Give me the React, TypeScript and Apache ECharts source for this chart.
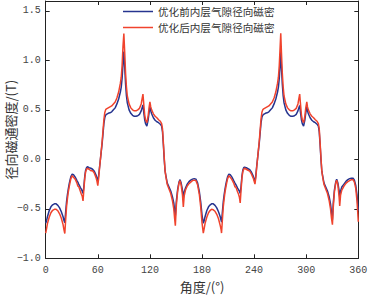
import React, { useEffect, useRef } from "react";
import * as echarts from "echarts";

// angle (deg)
const angles = [
  0, 1, 2, 4, 6, 8, 10, 12, 14, 16, 18, 20, 21, 22, 23, 24, 25, 26, 27, 28, 29, 30.5, 32, 34, 36, 37, 38, 40, 41, 42, 43, 44, 45, 46, 47, 48, 50, 52, 54, 56, 58, 59, 60, 61, 62, 63, 64, 65, 66, 67, 68, 69, 70, 72, 74, 76, 78, 80, 82, 84, 86, 87, 88, 89, 90, 91, 92, 93, 94, 96, 98, 100, 102, 104, 106, 108, 110, 111, 112, 113, 114, 115, 116.5, 118, 119, 120, 121, 122, 124, 126, 128, 130, 132, 133.5, 134.5, 135.5, 136.5, 137.5, 138.5, 140, 142, 144, 146, 147.5, 148.5, 149.3, 150.5, 152, 153.5, 154.7, 156, 157.5, 158.5, 159.5, 161, 163, 165, 167, 169, 171, 173, 175, 177, 178.5, 180,
  181.5, 182.5, 183.5, 185.5, 187.5, 189.5, 191, 193, 195, 197, 199, 201, 202, 202.5, 203.5, 204.5, 205.5, 206.5, 207.5, 208.5, 209.5, 211, 212.5, 214.5, 216.5, 218, 219, 221, 222, 223, 224, 225, 226, 227, 228, 229, 231, 233, 235, 237, 239, 240, 241, 242, 243, 244, 245, 246, 247, 248, 249, 250, 251, 253, 255, 257, 259, 261, 263, 265, 267, 268, 269, 270, 270.7, 271.5, 272.5, 273.5, 274.5, 276.5, 278.5, 280.5, 282.5, 284.5, 286.5, 288.5, 290.5, 291.5, 292.5, 293.5, 294.5, 295.5, 297, 298.5, 299.5, 300.7, 301.5, 302.5, 304.5, 306.5, 308.5, 310.5, 312.5, 314, 315, 316, 317, 318, 319, 320.5, 322.5, 324.5, 326.5, 328, 329.2, 330.2, 331.2, 332.5, 334, 335.1, 336.5, 337.8, 338.6, 339.6, 341, 343.5, 346, 348, 350, 352, 354, 355.5, 357, 358.5, 360,
];

// 优化前 (before optimisation), T
const before = [
  -0.645, -0.62, -0.58, -0.52, -0.48, -0.46, -0.45, -0.45, -0.465, -0.49, -0.53, -0.58, -0.615, -0.64, -0.53, -0.43, -0.36, -0.3, -0.25, -0.21, -0.175, -0.15, -0.155, -0.18, -0.215, -0.23, -0.25, -0.285, -0.3, -0.32, -0.345, -0.27, -0.17, -0.11, -0.085, -0.075, -0.085, -0.09, -0.1, -0.12, -0.16, -0.19, -0.22, -0.16, -0.08, 0.0, 0.08, 0.16, 0.26, 0.36, 0.42, 0.445, 0.455, 0.465, 0.47, 0.48, 0.5, 0.52, 0.56, 0.61, 0.68, 0.73, 0.82, 0.96, 1.09, 0.93, 0.76, 0.64, 0.57, 0.5, 0.465, 0.445, 0.435, 0.435, 0.44, 0.455, 0.49, 0.52, 0.55, 0.47, 0.4, 0.36, 0.335, 0.4, 0.47, 0.53, 0.49, 0.46, 0.42, 0.395, 0.38, 0.37, 0.355, 0.335, 0.28, 0.15, 0.0, -0.12, -0.17, -0.24, -0.28, -0.32, -0.38, -0.44, -0.52, -0.57, -0.42, -0.3, -0.23, -0.205, -0.24, -0.31, -0.39, -0.33, -0.29, -0.25, -0.225, -0.21, -0.2, -0.195, -0.2, -0.24, -0.33, -0.43, -0.56,
  -0.645, -0.62, -0.58, -0.52, -0.48, -0.46, -0.45, -0.45, -0.465, -0.49, -0.53, -0.58, -0.615, -0.635, -0.53, -0.43, -0.36, -0.3, -0.25, -0.21, -0.175, -0.15, -0.155, -0.18, -0.215, -0.24, -0.255, -0.29, -0.305, -0.32, -0.345, -0.27, -0.17, -0.11, -0.085, -0.08, -0.085, -0.095, -0.105, -0.13, -0.17, -0.2, -0.23, -0.16, -0.07, 0.01, 0.09, 0.17, 0.27, 0.37, 0.425, 0.445, 0.455, 0.465, 0.47, 0.48, 0.5, 0.52, 0.56, 0.61, 0.68, 0.73, 0.82, 0.96, 1.09, 0.93, 0.76, 0.64, 0.57, 0.5, 0.465, 0.445, 0.435, 0.435, 0.44, 0.455, 0.49, 0.52, 0.545, 0.47, 0.4, 0.36, 0.335, 0.4, 0.47, 0.53, 0.49, 0.46, 0.42, 0.395, 0.38, 0.37, 0.355, 0.335, 0.28, 0.15, 0.0, -0.12, -0.17, -0.24, -0.28, -0.32, -0.38, -0.45, -0.54, -0.61, -0.44, -0.31, -0.23, -0.2, -0.24, -0.31, -0.38, -0.32, -0.28, -0.25, -0.22, -0.205, -0.195, -0.19, -0.19, -0.21, -0.26, -0.36, -0.52,
];

// 优化后 (after optimisation), T
const after = [
  -0.745, -0.7, -0.65, -0.585, -0.54, -0.515, -0.505, -0.505, -0.52, -0.55, -0.595, -0.66, -0.71, -0.75, -0.61, -0.48, -0.4, -0.33, -0.28, -0.235, -0.195, -0.165, -0.18, -0.2, -0.24, -0.27, -0.275, -0.325, -0.35, -0.37, -0.42, -0.3, -0.19, -0.125, -0.1, -0.09, -0.1, -0.115, -0.115, -0.14, -0.185, -0.22, -0.265, -0.19, -0.09, 0.0, 0.09, 0.18, 0.29, 0.4, 0.47, 0.5, 0.51, 0.52, 0.53, 0.54, 0.56, 0.58, 0.62, 0.68, 0.77, 0.83, 0.95, 1.14, 1.27, 1.08, 0.87, 0.73, 0.64, 0.56, 0.52, 0.5, 0.49, 0.49, 0.5, 0.515, 0.56, 0.61, 0.66, 0.55, 0.45, 0.4, 0.37, 0.44, 0.52, 0.58, 0.53, 0.5, 0.46, 0.435, 0.42, 0.4, 0.385, 0.36, 0.31, 0.17, 0.02, -0.12, -0.18, -0.255, -0.3, -0.345, -0.42, -0.5, -0.6, -0.67, -0.46, -0.32, -0.24, -0.215, -0.26, -0.36, -0.48, -0.37, -0.31, -0.27, -0.245, -0.23, -0.215, -0.21, -0.215, -0.26, -0.36, -0.48, -0.64,
  -0.745, -0.7, -0.65, -0.585, -0.54, -0.515, -0.505, -0.51, -0.525, -0.555, -0.6, -0.67, -0.71, -0.745, -0.61, -0.48, -0.4, -0.33, -0.28, -0.235, -0.195, -0.165, -0.18, -0.205, -0.24, -0.28, -0.28, -0.33, -0.35, -0.38, -0.44, -0.31, -0.19, -0.125, -0.1, -0.09, -0.1, -0.11, -0.12, -0.15, -0.19, -0.22, -0.25, -0.18, -0.08, 0.01, 0.1, 0.19, 0.3, 0.41, 0.475, 0.5, 0.51, 0.52, 0.53, 0.54, 0.56, 0.58, 0.62, 0.68, 0.77, 0.83, 0.95, 1.14, 1.275, 1.08, 0.87, 0.73, 0.64, 0.56, 0.52, 0.5, 0.49, 0.49, 0.5, 0.515, 0.56, 0.61, 0.66, 0.55, 0.45, 0.4, 0.37, 0.44, 0.52, 0.58, 0.53, 0.5, 0.46, 0.435, 0.42, 0.4, 0.385, 0.36, 0.31, 0.17, 0.02, -0.12, -0.18, -0.255, -0.3, -0.345, -0.42, -0.5, -0.6, -0.66, -0.48, -0.33, -0.24, -0.21, -0.26, -0.37, -0.47, -0.36, -0.31, -0.27, -0.24, -0.225, -0.215, -0.205, -0.205, -0.23, -0.29, -0.42, -0.63,
];

const seriesNames = ["优化前内层气隙径向磁密", "优化后内层气隙径向磁密"];
const xTicks = { min: 0, max: 360, interval: 60 };
const yTicks = { min: -1.0, max: 1.6, interval: 0.5 };

const BLUE = "#26348f";
const RED = "#f0432d";
const AXIS = "#222";
const LABEL_FONT = "Liberation Mono";
const CJK = "Noto Sans CJK SC";

export default function App() {
  const ref = useRef<HTMLDivElement>(null);
  useEffect(() => {
    if (!ref.current) return;
    const chart = echarts.init(ref.current, undefined, { renderer: "svg" });
    const fmtY = (v: number) => (v < 0 ? "\u2212" + Math.abs(v).toFixed(1) : v.toFixed(1));
    const baseAxisLine = { show: true, onZero: false, lineStyle: { color: AXIS, width: 1 } };
    const tick = { show: true, inside: true, length: 4, lineStyle: { color: AXIS } };
    chart.setOption({
      animation: false,
      backgroundColor: "#ffffff",
      grid: {
        left: 45.7,
        right: 9.7,
        top: 1,
        bottom: 36.7,
        containLabel: false,
        outerBoundsMode: "none",
      },
      legend: {
        data: seriesNames,
        orient: "vertical",
        left: 123,
        top: 5,
        padding: 0,
        icon: "rect",
        itemWidth: 30,
        itemHeight: 1.5,
        itemGap: 3,
        textStyle: { fontFamily: CJK, fontSize: 10.6, color: "#333", lineHeight: 13 },
      },
      xAxis: [
        {
          type: "value",
          ...xTicks,
          position: "bottom",
          name: "角度/(°)",
          nameLocation: "middle",
          nameGap: 21,
          nameMoveOverlap: false,
          nameTextStyle: { fontFamily: CJK, fontSize: 13, color: "#333", lineHeight: 14 },
          axisLine: baseAxisLine,
          axisTick: tick,
          splitLine: { show: false },
          axisLabel: { fontFamily: LABEL_FONT, fontSize: 10, color: "#444", margin: 7 },
        },
        {
          type: "value",
          ...xTicks,
          position: "top",
          axisLine: baseAxisLine,
          axisTick: tick,
          splitLine: { show: false },
          axisLabel: { show: false },
        },
      ],
      yAxis: [
        {
          type: "value",
          ...yTicks,
          position: "left",
          name: "径向磁通密度/(T)",
          nameLocation: "middle",
          nameGap: 28.5,
          nameMoveOverlap: false,
          nameTextStyle: { fontFamily: CJK, fontSize: 13, color: "#333", lineHeight: 14 },
          axisLine: baseAxisLine,
          axisTick: tick,
          splitLine: { show: false },
          axisLabel: {
            fontFamily: LABEL_FONT,
            fontSize: 10,
            color: "#444",
            margin: 5,
            showMaxLabel: false,
            formatter: (v: number) => (Math.abs(v - 1.6) < 1e-6 ? "" : fmtY(v)),
          },
        },
        {
          type: "value",
          ...yTicks,
          position: "right",
          axisLine: baseAxisLine,
          axisTick: tick,
          splitLine: { show: false },
          axisLabel: { show: false },
        },
      ],
      series: [
        {
          name: seriesNames[0],
          type: "line",
          symbol: "none",
          smooth: false,
          xAxisIndex: 0,
          yAxisIndex: 0,
          lineStyle: { color: BLUE, width: 1.5 },
          itemStyle: { color: BLUE },
          data: angles.map((a, i) => [a, before[i]]),
        },
        {
          name: seriesNames[1],
          type: "line",
          symbol: "none",
          smooth: false,
          xAxisIndex: 0,
          yAxisIndex: 0,
          lineStyle: { color: RED, width: 1.5 },
          itemStyle: { color: RED },
          data: angles.map((a, i) => [a, after[i]]),
        },
      ],
    });
    return () => chart.dispose();
  }, []);
  return (
    <div
      ref={ref}
      style={{ position: "fixed", left: 0, top: 0, width: 368, height: 295, background: "#fff" }}
    />
  );
}
